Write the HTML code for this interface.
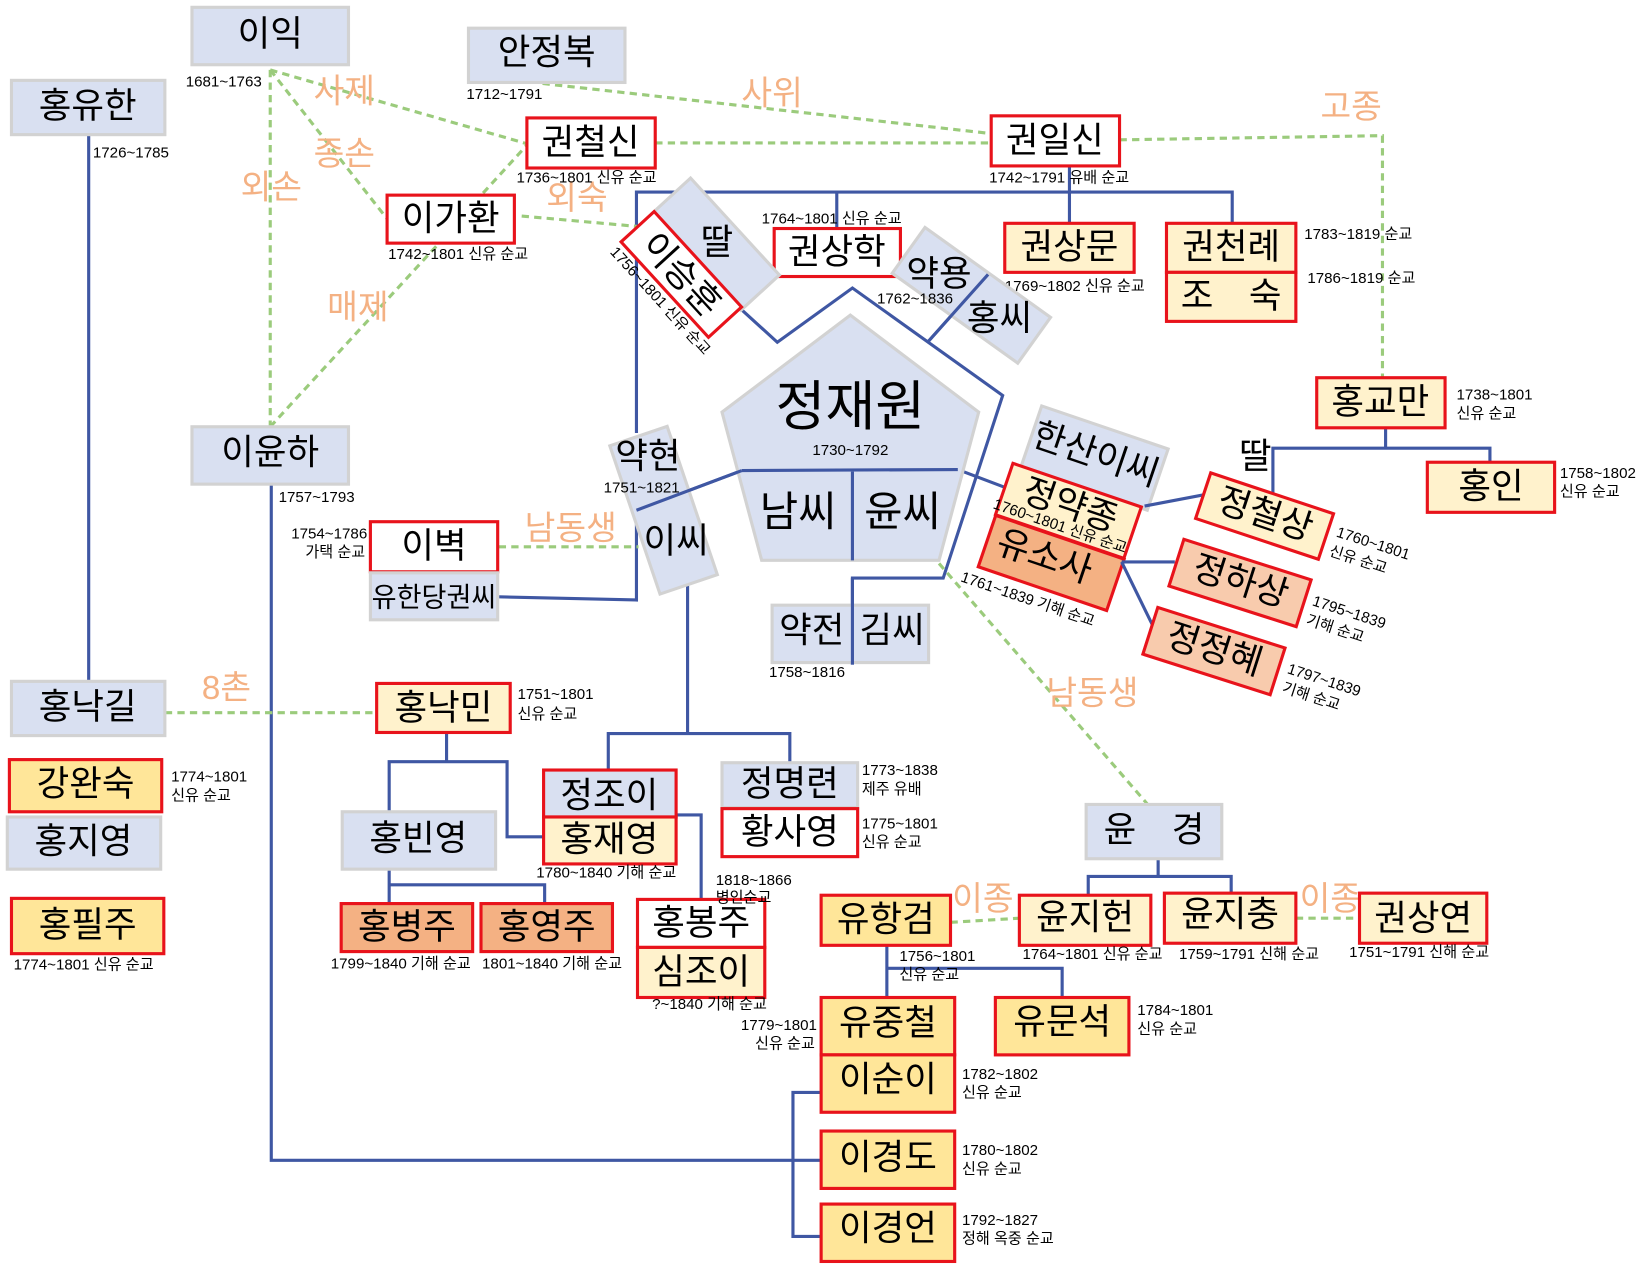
<!DOCTYPE html>
<html><head><meta charset="utf-8"><style>
html,body{margin:0;padding:0;background:#fff;}
svg{display:block;}
text{font-family:"Liberation Sans","Noto Sans CJK KR",sans-serif;fill:#000;}
.n{font-size:34px;text-anchor:middle;dominant-baseline:central;}
.d{font-size:14.5px;}
.o{font-size:32px;fill:#f4b183;text-anchor:middle;dominant-baseline:central;}
.g{fill:#d9e0f1;stroke:#d2d2d2;stroke-width:3;}
.r{stroke:#e8131b;stroke-width:3;}
.bl{stroke:#3f57a3;stroke-width:3;fill:none;}
.gr{stroke:#9bcb7c;stroke-width:3;fill:none;stroke-dasharray:7,5;}
</style></head><body>
<svg width="1636" height="1269" viewBox="0 0 1568 1216.2" xmlns="http://www.w3.org/2000/svg">
<g class="bl">
<polyline points="85,129 85,653"/>
<polyline points="610,415 610,184 1181,184 1181,214"/>
<polyline points="1025,159 1025,214"/>
<polyline points="802,184 802,219"/>
<polyline points="711,297 745,328 817,276 961,379 904,554 817,554 817,637"/>
<polyline points="889,328 947,263"/>
<polyline points="817,452 817,537"/>
<polyline points="711,451 918,450 963,467"/>
<polyline points="610,489 711,451"/>
<polyline points="610,501 610,575 478,572"/>
<polyline points="659,559 659,703"/>
<polyline points="583,738 583,703 757,703 757,731"/>
<polyline points="260,464 260,1112 787,1112"/>
<polyline points="428,702 428,730"/>
<polyline points="373,778 373,730 486,730 486,802 521,802"/>
<polyline points="373,833 373,866"/>
<polyline points="373,848 522,848 522,866"/>
<polyline points="648,781 672,781 672,862"/>
<polyline points="850,906 850,956"/>
<polyline points="850,928 1018,928 1018,956"/>
<polyline points="1110,823 1110,840"/>
<polyline points="1043,858 1043,840 1180,840 1180,858"/>
<polyline points="787,1047 760,1047 760,1185 787,1185"/>
<polyline points="1328,410 1328,429.5"/>
<polyline points="1220,472 1220,429.5 1428,429.5 1428,443"/>
</g>
<g class="gr">
<line x1="259" y1="67" x2="259" y2="409"/>
<line x1="259" y1="67" x2="506" y2="138"/>
<line x1="259" y1="67" x2="372" y2="211"/>
<line x1="259" y1="409" x2="419" y2="235"/>
<line x1="463" y1="185" x2="506" y2="138"/>
<line x1="500" y1="207" x2="611" y2="217"/>
<line x1="520" y1="80" x2="950" y2="128"/>
<line x1="628" y1="137" x2="950" y2="137"/>
<polyline points="1073,134 1325,130 1325,362"/>
<line x1="478" y1="524" x2="612" y2="524"/>
<line x1="158" y1="683" x2="361" y2="683"/>
<line x1="900" y1="540" x2="1100" y2="771"/>
<line x1="911" y1="884" x2="977" y2="880"/>
<line x1="1242" y1="880" x2="1303" y2="880"/>
</g>
<text class="o" x="330" y="88">사제</text>
<text class="o" x="330" y="148">종손</text>
<text class="o" x="260" y="180">외손</text>
<text class="o" x="553" y="190">외숙</text>
<text class="o" x="343" y="295">매제</text>
<text class="o" x="740" y="90">사위</text>
<text class="o" x="1295" y="103">고종</text>
<text class="o" x="547" y="507">남동생</text>
<text class="o" x="217" y="660">8촌</text>
<text class="o" x="1047" y="665">남동생</text>
<text class="o" x="942" y="862">이종</text>
<text class="o" x="1275" y="862">이종</text>

<polygon points="815,302 938,395 900,537 730,537 692,395" fill="#d9e0f1" stroke="#d2d2d2" stroke-width="3"/>
<polyline class="bl" points="711,451 918,450"/>
<polyline class="bl" points="817,452 817,537"/>
<text class="n" x="815" y="390" style="font-size:52px">정재원</text>
<text class="d" x="815" y="436" text-anchor="middle">1730~1792</text>
<text class="n" x="765" y="490" style="font-size:40px">남씨</text>
<text class="n" x="865" y="490" style="font-size:40px">윤씨</text>

<rect class="g" x="184" y="7" width="150" height="55"/><text class="n" x="259" y="32">이익</text>
<text class="d" x="178" y="83">1681~1763</text>
<rect class="g" x="449" y="27" width="150" height="52"/><text class="n" x="524" y="50">안정복</text>
<text class="d" x="447" y="95">1712~1791</text>
<rect class="g" x="11" y="77" width="147" height="52"/><text class="n" x="84" y="101">홍유한</text>
<text class="d" x="89" y="151">1726~1785</text>
<rect class="r" fill="#fff" x="505" y="113" width="123" height="48"/><text class="n" x="566" y="136">권철신</text>
<text class="d" x="495" y="175">1736~1801 신유 순교</text>
<rect class="r" fill="#fff" x="950" y="111" width="123" height="48"/><text class="n" x="1011" y="134">권일신</text>
<text class="d" x="948" y="175">1742~1791 유배 순교</text>
<rect class="r" fill="#fff" x="371" y="187" width="122" height="46"/><text class="n" x="432" y="209">이가환</text>
<text class="d" x="372" y="248">1742~1801 신유 순교</text>
<rect class="r" fill="#fff" x="742" y="219" width="121" height="46"/><text class="n" x="802" y="241">권상학</text>
<text class="d" x="730" y="214">1764~1801 신유 순교</text>
<rect class="r" fill="#fff2cc" x="963" y="214" width="124" height="47"/><text class="n" x="1025" y="236">권상문</text>
<text class="d" x="963" y="279">1769~1802 신유 순교</text>
<rect class="r" fill="#fff2cc" x="1118" y="214" width="124" height="47"/><text class="n" x="1180" y="236">권천례</text>
<rect class="r" fill="#fff2cc" x="1118" y="261" width="124" height="47"/><text class="n" x="1180" y="283">조　숙</text>
<text class="d" x="1250" y="229">1783~1819 순교</text>
<text class="d" x="1253" y="271">1786~1819 순교</text>
<rect class="r" fill="#fff2cc" x="1262" y="362" width="123" height="48"/><text class="n" x="1323" y="385">홍교만</text>
<text class="d" x="1396" y="383">1738~1801</text><text class="d" x="1396" y="401">신유 순교</text>
<text class="n" x="1203" y="437">딸</text>
<rect class="r" fill="#fff2cc" x="1368" y="443" width="122" height="48"/><text class="n" x="1429" y="466">홍인</text>
<text class="d" x="1495" y="458">1758~1802</text><text class="d" x="1495" y="476">신유 순교</text>
<rect class="g" x="184" y="409" width="150" height="55"/><text class="n" x="259" y="433">이윤하</text>
<text class="d" x="267" y="481">1757~1793</text>
<rect class="r" fill="#fff" x="355" y="500" width="122" height="48"/><text class="n" x="416" y="523">이벽</text>
<rect class="g" x="355" y="549" width="122" height="45"/><text class="n" x="416" y="572" style="font-size:26px">유한당권씨</text>
<text class="d" x="352" y="516" text-anchor="end">1754~1786</text><text class="d" x="350" y="534" text-anchor="end">가택 순교</text>
<rect class="g" x="740" y="580" width="150" height="55"/>
<polyline class="bl" points="817,554 817,637"/>
<text class="n" x="778" y="604">약전</text><text class="n" x="855" y="604">김씨</text>
<text class="d" x="737" y="649">1758~1816</text>
<rect class="g" x="11" y="653" width="147" height="52"/><text class="n" x="84" y="677">홍낙길</text>
<rect class="r" fill="#fff2cc" x="361" y="655" width="128" height="47"/><text class="n" x="425" y="678">홍낙민</text>
<text class="d" x="496" y="670">1751~1801</text><text class="d" x="496" y="689">신유 순교</text>
<rect class="r" fill="#ffe699" x="9" y="728" width="146" height="50"/><text class="n" x="82" y="751">강완숙</text>
<text class="d" x="164" y="749">1774~1801</text><text class="d" x="164" y="767">신유 순교</text>
<rect class="g" x="7" y="783" width="147" height="50"/><text class="n" x="80" y="806">홍지영</text>
<rect class="r" fill="#ffe699" x="11" y="861" width="146" height="53"/><text class="n" x="84" y="886">홍필주</text>
<text class="d" x="13" y="929">1774~1801 신유 순교</text>
<rect class="g" x="328" y="778" width="147" height="55"/><text class="n" x="401" y="803">홍빈영</text>
<rect class="r" fill="#d9e0f1" x="521" y="738" width="127" height="45"/><text class="n" x="584" y="762">정조이</text>
<rect class="r" fill="#fff2cc" x="521" y="783" width="127" height="45"/><text class="n" x="584" y="804">홍재영</text>
<text class="d" x="514" y="841">1780~1840 기해 순교</text>
<rect class="g" x="692" y="731" width="130" height="43"/><text class="n" x="757" y="751">정명련</text>
<text class="d" x="826" y="743">1773~1838</text><text class="d" x="826" y="761">제주 유배</text>
<rect class="r" fill="#fff" x="692" y="775" width="130" height="46"/><text class="n" x="757" y="797">황사영</text>
<text class="d" x="826" y="794">1775~1801</text><text class="d" x="826" y="812">신유 순교</text>
<rect class="r" fill="#f4b183" x="327" y="866" width="126" height="46"/><text class="n" x="390" y="888">홍병주</text>
<rect class="r" fill="#f4b183" x="461" y="866" width="126" height="46"/><text class="n" x="524" y="888">홍영주</text>
<text class="d" x="317" y="928">1799~1840 기해 순교</text>
<text class="d" x="462" y="928">1801~1840 기해 순교</text>
<rect class="r" fill="#fff" x="611" y="862" width="122" height="46"/><text class="n" x="672" y="884">홍봉주</text>
<rect class="r" fill="#fff2cc" x="611" y="908" width="122" height="48"/><text class="n" x="672" y="931">심조이</text>
<text class="d" x="686" y="848">1818~1866</text><text class="d" x="686" y="865">병인순교</text>
<text class="d" x="625" y="967">?~1840 기해 순교</text>
<rect class="r" fill="#ffe699" x="787" y="858" width="124" height="48"/><text class="n" x="849" y="881">유항검</text>
<text class="d" x="862" y="921">1756~1801</text><text class="d" x="862" y="939">신유 순교</text>
<rect class="g" x="1041" y="771" width="130" height="52"/><text class="n" x="1106" y="795">윤　경</text>
<rect class="r" fill="#fff2cc" x="977" y="858" width="126" height="48"/><text class="n" x="1040" y="879">윤지헌</text>
<text class="d" x="980" y="919">1764~1801 신유 순교</text>
<rect class="r" fill="#fff2cc" x="1116" y="856" width="126" height="48"/><text class="n" x="1179" y="876">윤지충</text>
<text class="d" x="1130" y="919">1759~1791 신해 순교</text>
<rect class="r" fill="#fff2cc" x="1303" y="856" width="122" height="48"/><text class="n" x="1364" y="880">권상연</text>
<text class="d" x="1293" y="917">1751~1791 신해 순교</text>
<rect class="r" fill="#ffe699" x="787" y="956" width="128" height="55"/><text class="n" x="851" y="980">유중철</text>
<text class="d" x="783" y="987" text-anchor="end">1779~1801</text><text class="d" x="781" y="1005" text-anchor="end">신유 순교</text>
<rect class="r" fill="#ffe699" x="787" y="1011" width="128" height="55"/><text class="n" x="851" y="1034">이순이</text>
<text class="d" x="922" y="1034">1782~1802</text><text class="d" x="922" y="1052">신유 순교</text>
<rect class="r" fill="#ffe699" x="954" y="956" width="128" height="55"/><text class="n" x="1018" y="979">유문석</text>
<text class="d" x="1090" y="973">1784~1801</text><text class="d" x="1090" y="991">신유 순교</text>
<rect class="r" fill="#ffe699" x="787" y="1084" width="128" height="55"/><text class="n" x="851" y="1109">이경도</text>
<text class="d" x="922" y="1107">1780~1802</text><text class="d" x="922" y="1125">신유 순교</text>
<rect class="r" fill="#ffe699" x="787" y="1154" width="128" height="55"/><text class="n" x="851" y="1177">이경언</text>
<text class="d" x="922" y="1174">1792~1827</text><text class="d" x="922" y="1192">정해 옥중 순교</text>

<g transform="translate(686,234) rotate(47.5)"><rect class="g" x="-63" y="-25" width="126" height="50"/></g>
<text class="n" x="687" y="232">딸</text>
<g transform="translate(653,263) rotate(47.5)"><rect class="r" fill="#fff" x="-62" y="-21.5" width="124" height="43"/><text class="n" x="0" y="0">이승훈</text></g>
<text class="d" transform="translate(584,242) rotate(47.5)">1756~1801 신유 순교</text>
<g transform="translate(931,283) rotate(35.6)"><rect class="g" x="-74" y="-27" width="148" height="54"/></g>
<polyline class="bl" points="889,328 947,263"/>
<text class="n" x="900" y="262">약용</text>
<text class="d" x="877" y="291" text-anchor="middle">1762~1836</text>
<text class="n" x="958" y="305">홍씨</text>
<g transform="translate(636,489) rotate(-18.7)"><rect class="g" x="-29" y="-75" width="58" height="150"/></g>
<polyline class="bl" points="610,489 711,451"/>
<text class="n" x="621" y="437">약현</text>
<text class="d" x="615" y="472" text-anchor="middle">1751~1821</text>
<text class="n" x="648" y="518">이씨</text>
<g transform="translate(1049,439) rotate(18.8)"><rect class="g" x="-64" y="-31" width="128" height="62"/><text class="n" x="0" y="-4">한산이씨</text></g>
<g transform="translate(1024,489.6) rotate(18.8)"><rect class="r" fill="#fff2cc" x="-65" y="-26" width="130" height="52"/><text class="n" x="0" y="-6">정약종</text></g>
<g transform="translate(1007.5,539.5) rotate(18.8)"><rect class="r" fill="#f4b183" x="-65" y="-26" width="130" height="52"/><text class="n" x="-8" y="-4">유소사</text></g>
<text class="d" transform="translate(951,487) rotate(18.8)">1760~1801 신유 순교</text>
<text class="d" transform="translate(920,557) rotate(18.8)">1761~1839 기해 순교</text>
<polyline class="bl" points="1097,485 1155,474"/>
<polyline class="bl" points="1075,538.6 1126,538.6"/>
<polyline class="bl" points="1075,538.6 1107,604"/>
<g transform="translate(1212,494.6) rotate(18.4)"><rect class="r" fill="#fff2cc" x="-62" y="-23" width="124" height="46"/><text class="n" x="0" y="-2">정철상</text></g>
<g transform="translate(1188.5,558.7) rotate(17.7)"><rect class="r" fill="#f8cbad" x="-64" y="-23.5" width="128" height="47"/><text class="n" x="0" y="-2">정하상</text></g>
<g transform="translate(1163.5,624) rotate(17.7)"><rect class="r" fill="#f8cbad" x="-64" y="-23.5" width="128" height="47"/><text class="n" x="0" y="-2">정정혜</text></g>
<text class="d" transform="translate(1280,514) rotate(18)">1760~1801</text>
<text class="d" transform="translate(1273,532) rotate(18)">신유 순교</text>
<text class="d" transform="translate(1257,580) rotate(18)">1795~1839</text>
<text class="d" transform="translate(1251,598) rotate(18)">기해 순교</text>
<text class="d" transform="translate(1233,645) rotate(18)">1797~1839</text>
<text class="d" transform="translate(1228,663) rotate(18)">기해 순교</text>
</svg>
</body></html>
